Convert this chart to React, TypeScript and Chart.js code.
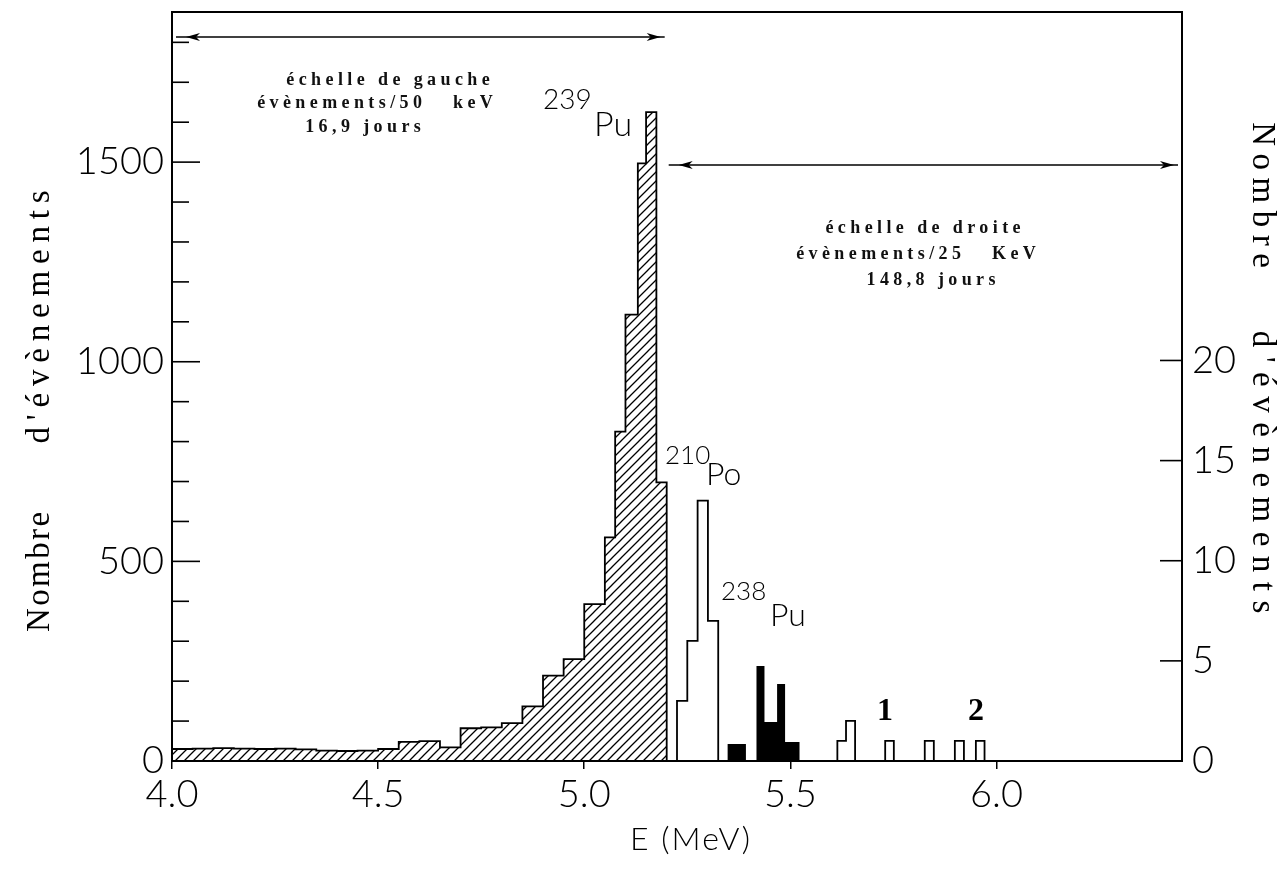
import { useEffect, useRef } from 'react';
import { Chart, registerables } from 'chart.js';

Chart.register(...registerables);

// ---- axis ticks ----
const xTickValues = [4.0, 4.5, 5.0, 5.5, 6.0];
const leftTickValues = [0, 500, 1000, 1500];
const leftMinorValues = [100, 200, 300, 400, 500, 600, 700, 800, 900, 1000, 1100, 1200, 1300, 1400, 1500, 1600, 1700, 1800];
const rightTickValues = [0, 5, 10, 15, 20];

// ---- left scale histogram (239Pu, events / 50 keV, 16.9 days) ----
const pu239Edges = [4.00, 4.05, 4.10, 4.15, 4.20, 4.25, 4.30, 4.35, 4.40, 4.45, 4.50, 4.55, 4.60, 4.65, 4.70, 4.75, 4.80, 4.85, 4.90, 4.95, 5.00, 5.05, 5.075, 5.10, 5.13, 5.15, 5.175, 5.20];
const pu239Counts = [30, 31, 32, 31, 30, 31, 29, 26, 25, 26, 30, 48, 50, 34, 82, 84, 95, 137, 214, 255, 393, 560, 825, 1118, 1497, 1625, 698];

// ---- right scale histograms (events / 25 keV, 148.8 days) ----
const po210Edges = [5.225, 5.25, 5.275, 5.30, 5.325];
const po210Counts = [3, 6, 13, 7];

const pu238Edges = [5.35, 5.39, 5.42, 5.435, 5.47, 5.485, 5.52];
const pu238Counts = [0.8, 0, 4.7, 1.9, 3.8, 0.9];

const tailEdges = [5.614, 5.635, 5.657, 5.730, 5.751, 5.826, 5.848, 5.899, 5.921, 5.950, 5.971];
const tailCounts = [1, 2, 0, 1, 0, 1, 0, 1, 0, 1];

function toSteps(edges: number[], counts: number[]) {
  const pts: { x: number; y: number }[] = [{ x: edges[0], y: 0 }];
  counts.forEach((c, i) => pts.push({ x: edges[i], y: c }));
  pts.push({ x: edges[edges.length - 1], y: 0 });
  return pts;
}

function makeHatch(): CanvasPattern | string {
  const c = document.createElement('canvas');
  c.width = 9;
  c.height = 9;
  const g = c.getContext('2d');
  if (!g) return '#fff';
  g.strokeStyle = '#000';
  g.lineWidth = 1.3;
  g.beginPath();
  g.moveTo(0, 9); g.lineTo(9, 0);
  g.moveTo(-4.5, 4.5); g.lineTo(4.5, -4.5);
  g.moveTo(4.5, 13.5); g.lineTo(13.5, 4.5);
  g.stroke();
  return g.createPattern(c, 'repeat') || '#fff';
}

const SERIF = '"Liberation Serif", "DejaVu Serif", serif';
const THIN = 'Lato, "Liberation Sans", "DejaVu Sans", sans-serif';

function txt(ctx: CanvasRenderingContext2D, s: string, x: number, y: number, font: string, spacing = 0, align: CanvasTextAlign = 'center') {
  ctx.font = font;
  (ctx as any).letterSpacing = spacing + 'px';
  ctx.textAlign = align;
  ctx.textBaseline = 'middle';
  ctx.fillText(s, x + (align === 'center' ? spacing / 2 : 0), y);
}

function arrow(ctx: CanvasRenderingContext2D, x1: number, x2: number, y: number) {
  ctx.beginPath();
  ctx.moveTo(x1, y);
  ctx.lineTo(x2, y);
  ctx.stroke();
  const head = (tip: number, dir: number) => {
    ctx.beginPath();
    ctx.moveTo(tip, y);
    ctx.lineTo(tip + dir * 14, y - 4);
    ctx.lineTo(tip + dir * 10, y);
    ctx.lineTo(tip + dir * 14, y + 4);
    ctx.closePath();
    ctx.fill();
  };
  head(x1 + 10, 1);
  head(x2 - 4, -1);
}

const decorPlugin = {
  id: 'decor',
  afterDraw(chart: any) {
    const { ctx, chartArea: a, scales } = chart;
    const yL = scales.yL;
    const yR = scales.yR;
    const x = scales.x;
    ctx.save();
    ctx.strokeStyle = '#000';
    ctx.fillStyle = '#000';
    ctx.lineWidth = 2;
    // top frame line
    ctx.beginPath();
    ctx.moveTo(a.left, a.top);
    ctx.lineTo(a.right, a.top);
    ctx.stroke();
    // inward ticks, left scale
    ctx.lineWidth = 1.6;
    for (const v of leftMinorValues) {
      const py = yL.getPixelForValue(v);
      const len = leftTickValues.includes(v) ? 28 : 17;
      ctx.beginPath();
      ctx.moveTo(a.left, py);
      ctx.lineTo(a.left + len, py);
      ctx.stroke();
    }
    // inward ticks, right scale
    for (const v of rightTickValues) {
      if (v === 0) continue;
      const py = yR.getPixelForValue(v);
      ctx.beginPath();
      ctx.moveTo(a.right - 22, py);
      ctx.lineTo(a.right, py);
      ctx.stroke();
    }
    // range arrows
    ctx.lineWidth = 1.5;
    const split = x.getPixelForValue(5.2);
    arrow(ctx, a.left + 4, split - 2, a.top + 25);
    arrow(ctx, split + 2, a.right - 4, a.top + 153);

    // annotation blocks
    ctx.fillStyle = '#111';
    const small = `bold 18px ${SERIF}`;
    txt(ctx, 'échelle de gauche', 388, 80, small, 4.4);
    txt(ctx, 'évènements/50   keV', 375, 103, small, 4.4);
    txt(ctx, '16,9 jours', 363, 127, small, 4.4);
    txt(ctx, 'échelle de droite', 923, 228, small, 4.4);
    txt(ctx, 'évènements/25   KeV', 916, 254, small, 4.4);
    txt(ctx, '148,8 jours', 931, 280, small, 4.4);

    // isotope labels
    ctx.fillStyle = '#000';
    txt(ctx, '239', 543, 100, `300 28px ${THIN}`, 0, 'left');
    txt(ctx, 'Pu', 594, 125, `300 34px ${THIN}`, 0, 'left');
    txt(ctx, '210', 665, 456, `300 26px ${THIN}`, 0, 'left');
    txt(ctx, 'Po', 706, 475, `300 32px ${THIN}`, 0, 'left');
    txt(ctx, '238', 721, 592, `300 26px ${THIN}`, 0, 'left');
    txt(ctx, 'Pu', 770, 616, `300 32px ${THIN}`, 0, 'left');
    txt(ctx, '1', 885, 712, `bold 32px ${SERIF}`);
    txt(ctx, '2', 976, 712, `bold 32px ${SERIF}`);

    // axis titles (rotated)
    const titleFont = `33px ${SERIF}`;
    ctx.save();
    ctx.translate(40, 0);
    ctx.rotate(-Math.PI / 2);
    txt(ctx, 'Nombre', -572, 0, titleFont, 2.4);
    txt(ctx, "d'évènements", -317, 0, titleFont, 6.8);
    ctx.restore();
    ctx.save();
    ctx.translate(1262, 0);
    ctx.rotate(Math.PI / 2);
    txt(ctx, 'Nombre', 195, 0, titleFont, 7.5);
    txt(ctx, "d'évènements", 472, 0, titleFont, 9.5);
    ctx.restore();
    txt(ctx, 'E (MeV)', 690, 840, `300 32px ${THIN}`, 2);
    ctx.restore();
  },
};

const noPad = (s: any) => {
  s.paddingTop = 0;
  s.paddingBottom = 0;
  s.paddingLeft = 0;
  s.paddingRight = 0;
};

export default function App() {
  const ref = useRef<HTMLCanvasElement | null>(null);
  useEffect(() => {
    if (!ref.current) return;
    const hatch = makeHatch();
    const tickFont = { family: THIN, size: 38, weight: '300' };
    const line = (data: any, axis: string, fill: any, bg?: any) => ({
      data,
      yAxisID: axis,
      stepped: 'before',
      borderColor: '#000',
      borderWidth: 1.8,
      backgroundColor: bg,
      fill,
      pointRadius: 0,
    });
    const chart = new Chart(ref.current, {
      type: 'line',
      data: {
        datasets: [
          line(toSteps(pu239Edges, pu239Counts), 'yL', 'origin', hatch),
          line(toSteps(po210Edges, po210Counts), 'yR', false),
          line(toSteps(pu238Edges, pu238Counts), 'yR', 'origin', '#000'),
          line(toSteps(tailEdges, tailCounts), 'yR', false),
        ] as any,
      },
      options: {
        animation: false,
        responsive: true,
        maintainAspectRatio: false,
        layout: { padding: { top: 12, left: 0, right: 0, bottom: 0 } },
        plugins: { legend: { display: false }, tooltip: { enabled: false }, title: { display: false } },
        scales: {
          x: {
            type: 'linear',
            min: 4.0,
            max: 6.45,
            afterBuildTicks: (s: any) => { s.ticks = xTickValues.map((v) => ({ value: v })); },
            afterFit: (s: any) => { s.height = 112; noPad(s); },
            grid: { drawOnChartArea: false, drawTicks: true, tickLength: 8, color: '#000', lineWidth: 1.5 },
            border: { display: true, color: '#000', width: 2 },
            ticks: { callback: (v: any) => Number(v).toFixed(1), font: tickFont, color: '#000', padding: 3, maxRotation: 0, autoSkip: false },
          },
          yL: {
            type: 'linear',
            position: 'left',
            min: 0,
            max: 1876,
            afterBuildTicks: (s: any) => { s.ticks = leftTickValues.map((v) => ({ value: v })); },
            afterFit: (s: any) => { s.width = 172; noPad(s); },
            grid: { display: false, drawTicks: false },
            border: { display: true, color: '#000', width: 2 },
            ticks: { callback: (v: any) => String(v), font: tickFont, color: '#000', padding: 8, autoSkip: false },
          },
          yR: {
            type: 'linear',
            position: 'right',
            min: 0,
            max: 37.4,
            afterBuildTicks: (s: any) => { s.ticks = rightTickValues.map((v) => ({ value: v })); },
            afterFit: (s: any) => { s.width = 102; noPad(s); },
            grid: { display: false, drawTicks: false },
            border: { display: true, color: '#000', width: 2 },
            ticks: { callback: (v: any) => String(v), font: tickFont, color: '#000', padding: 10, autoSkip: false },
          },
        },
      } as any,
      plugins: [decorPlugin],
    });
    return () => chart.destroy();
  }, []);
  return (
    <div style={{ position: 'fixed', left: 0, top: 0, width: 1284, height: 873, background: '#fff' }}>
      <canvas ref={ref} />
    </div>
  );
}
